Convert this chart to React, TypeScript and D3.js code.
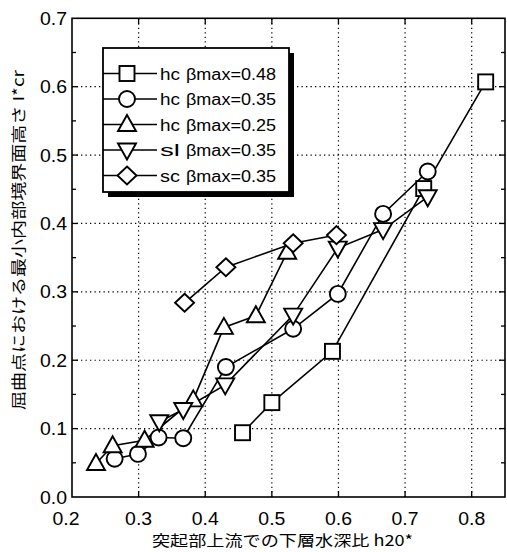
import { useEffect } from "react";
import * as d3 from "d3";

type Pt = [number, number];

// hc βmax=0.48 (square)
const hc048: Pt[] = [
  [0.456, 0.094], [0.5, 0.138], [0.591, 0.213], [0.728, 0.451], [0.821, 0.607],
];
// hc βmax=0.35 (circle)
const hc035: Pt[] = [
  [0.264, 0.056], [0.299, 0.063], [0.33, 0.087], [0.367, 0.086], [0.431, 0.19],
  [0.532, 0.246], [0.599, 0.297], [0.667, 0.414], [0.734, 0.476],
];
// hc βmax=0.25 (triangle up)
const hc025: Pt[] = [
  [0.236, 0.049], [0.261, 0.075], [0.309, 0.083], [0.382, 0.142], [0.428, 0.248],
  [0.476, 0.265], [0.523, 0.358],
];
// sl βmax=0.35 (triangle down)
const sl035: Pt[] = [
  [0.331, 0.11], [0.367, 0.128], [0.43, 0.164], [0.532, 0.266], [0.599, 0.364],
  [0.667, 0.391], [0.734, 0.439],
];
// sc βmax=0.35 (diamond)
const sc035: Pt[] = [
  [0.369, 0.284], [0.431, 0.336], [0.532, 0.371], [0.597, 0.383],
];

const seriesData = [hc048, hc035, hc025, sl035, sc035];
const seriesMarks = ["square", "circle", "up", "down", "diamond"];
const legendPrefix = ["hc", "hc", "hc", "sl", "sc"];
const legendBeta = ["βmax=0.48", "βmax=0.35", "βmax=0.25", "βmax=0.35", "βmax=0.35"];

const xTicks = [0.2, 0.3, 0.4, 0.5, 0.6, 0.7, 0.8];
const yTicks = [0.0, 0.1, 0.2, 0.3, 0.4, 0.5, 0.6, 0.7];
const yMinor = [0.05, 0.15, 0.25, 0.35, 0.45, 0.55, 0.65];

const xTitle = "突起部上流での下層水深比 h20*";
const yTitle = "屈曲点における最小内部境界面高さ I*cr";

const W = 507;
const H = 552;
const latin = "'Liberation Sans', Arial, Helvetica, sans-serif";
const cjk = "'Noto Sans CJK JP', 'Noto Sans', sans-serif";

function Marker({ kind, x, y }: { kind: string; x: number; y: number }) {
  const common = { fill: "white", stroke: "black", strokeWidth: 1.9 };
  if (kind === "square") return <rect x={x - 7.5} y={y - 7.5} width={15} height={15} {...common} />;
  if (kind === "circle") return <circle cx={x} cy={y} r={8} {...common} />;
  if (kind === "up")
    return <polygon points={`${x},${y - 9.5} ${x + 9},${y + 6.5} ${x - 9},${y + 6.5}`} {...common} />;
  if (kind === "down")
    return <polygon points={`${x},${y + 9.5} ${x + 9},${y - 6.5} ${x - 9},${y - 6.5}`} {...common} />;
  return <polygon points={`${x},${y - 9} ${x + 9.5},${y} ${x},${y + 9} ${x - 9.5},${y}`} {...common} />;
}

export default function App() {
  useEffect(() => {
    document.body.style.margin = "0";
  }, []);

  const x = d3.scaleLinear().domain([0.2, 0.85]).range([72, 505]);
  const y = d3.scaleLinear().domain([0, 0.7]).range([497, 18.3]);
  const line = d3
    .line<Pt>()
    .x((d) => x(d[0]))
    .y((d) => y(d[1]));

  const [x0, x1] = x.range();
  const [y0, y1] = y.range();

  const lg = { left: 103, top: 48, right: 289, bottom: 192 };
  const rowY = (i: number) => 73.5 + i * 25.5;

  return (
    <svg width={W} height={H} style={{ display: "block", background: "white" }}>
      {/* dotted grid */}
      <g stroke="black" strokeWidth={1.2} strokeDasharray="1.3 3.2">
        {xTicks.slice(1).map((t) => (
          <line key={"gx" + t} x1={x(t)} x2={x(t)} y1={y0} y2={y1} />
        ))}
        {yTicks.slice(1, -1).map((t) => (
          <line key={"gy" + t} x1={x0} x2={x1} y1={y(t)} y2={y(t)} />
        ))}
      </g>

      {/* ticks */}
      <g stroke="black" strokeWidth={1.3}>
        {xTicks.slice(1).map((t) => (
          <g key={"tx" + t}>
            <line x1={x(t)} x2={x(t)} y1={y0} y2={y0 - 6} />
            <line x1={x(t)} x2={x(t)} y1={y1} y2={y1 + 6} />
          </g>
        ))}
        {yTicks.slice(1, -1).map((t) => (
          <g key={"ty" + t}>
            <line x1={x0} x2={x0 + 6} y1={y(t)} y2={y(t)} />
            <line x1={x1} x2={x1 - 6} y1={y(t)} y2={y(t)} />
          </g>
        ))}
        {yMinor.map((t) => (
          <g key={"tm" + t}>
            <line x1={x0} x2={x0 + 4} y1={y(t)} y2={y(t)} />
            <line x1={x1} x2={x1 - 4} y1={y(t)} y2={y(t)} />
          </g>
        ))}
      </g>

      {/* series lines */}
      <g fill="none" stroke="black" strokeWidth={1.6}>
        {seriesData.map((s, i) => (
          <path key={"l" + i} d={line(s) ?? ""} />
        ))}
      </g>

      {/* markers */}
      {seriesData.map((s, i) => (
        <g key={"m" + i}>
          {s.map((d, j) => (
            <Marker key={j} kind={seriesMarks[i]} x={x(d[0])} y={y(d[1])} />
          ))}
        </g>
      ))}

      {/* frame */}
      <rect x={x0} y={y1} width={x1 - x0} height={y0 - y1} fill="none" stroke="black" strokeWidth={1.6} />

      {/* legend */}
      <rect x={lg.left + 5} y={lg.top + 5} width={lg.right - lg.left} height={lg.bottom - lg.top} fill="black" />
      <rect
        x={lg.left}
        y={lg.top}
        width={lg.right - lg.left}
        height={lg.bottom - lg.top}
        fill="white"
        stroke="black"
        strokeWidth={1.8}
      />
      {seriesMarks.map((m, i) => (
        <g key={"lg" + i}>
          <line x1={lg.left} x2={157} y1={rowY(i)} y2={rowY(i)} stroke="black" strokeWidth={1.6} />
          <Marker kind={m} x={127} y={rowY(i)} />
          <text x={160} y={rowY(i) + 6} fontFamily={latin} fontSize={16} textLength={20} lengthAdjust="spacingAndGlyphs">
            {legendPrefix[i]}
          </text>
          <text x={186} y={rowY(i) + 6} fontFamily={latin} fontSize={16} textLength={90} lengthAdjust="spacingAndGlyphs">
            {legendBeta[i]}
          </text>
        </g>
      ))}

      {/* tick labels */}
      {xTicks.map((t, i) => (
        <text
          key={"xl" + t}
          x={x(t) - 13.5 - (i === 0 ? 6 : 0)}
          y={525}
          fontFamily={latin}
          fontSize={18}
          textLength={27}
          lengthAdjust="spacingAndGlyphs"
        >
          {t.toFixed(1)}
        </text>
      ))}
      {yTicks.map((t) => (
        <text
          key={"yl" + t}
          x={40}
          y={y(t) + 6.5}
          fontFamily={latin}
          fontSize={18}
          textLength={27}
          lengthAdjust="spacingAndGlyphs"
        >
          {t.toFixed(1)}
        </text>
      ))}

      {/* axis titles */}
      <text x={152} y={546} fontFamily={cjk} fontSize={15} textLength={261} lengthAdjust="spacingAndGlyphs">
        {xTitle}
      </text>
      <text
        transform="translate(24,410) rotate(-90)"
        x={0}
        y={0}
        fontFamily={cjk}
        fontSize={15}
        textLength={340}
        lengthAdjust="spacingAndGlyphs"
      >
        {yTitle}
      </text>
    </svg>
  );
}
